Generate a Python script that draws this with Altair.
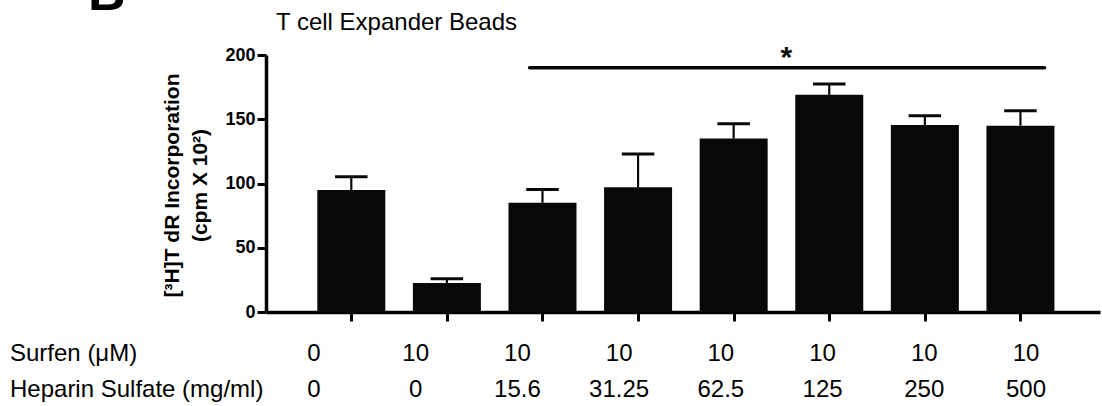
import altair as alt
import pandas as pd

# ---- data ----
groups = [1, 2, 3, 4, 5, 6, 7, 8]
means = [95, 22.5, 85, 97, 135, 169, 145.5, 145]
sems = [10.2, 3.3, 10.3, 26.0, 11.5, 8.5, 7.2, 11.6]
surfen = ["0", "10", "10", "10", "10", "10", "10", "10"]
heparin = ["0", "0", "15.6", "31.25", "62.5", "125", "250", "500"]
row_titles = ["Surfen (\u03bcM)", "Heparin Sulfate (mg/ml)"]
sig_start = [2.865]
sig_end = [8.253]
sig_level = [190]
star_pos = [5.55]
star_level = [191]
chart_title = "T cell Expander Beads"
panel_letter = "B"
y_title = ["[\u00b3H]T dR Incorporation", "(cpm X 10\u00b2)"]
y_ticks = [0, 50, 100, 150, 200]

FONT = "Liberation Sans"
INK = "#080806"

df = pd.DataFrame({"g": groups, "mean": means, "sem": sems})
df["upper"] = df["mean"] + df["sem"]

xs = alt.Scale(domain=[0.16, 8.78], nice=False, zero=False)
ys = alt.Scale(domain=[0, 200], nice=False)

base = alt.Chart(df)

bars = base.mark_bar(size=68, color=INK).encode(
    x=alt.X("g:Q", scale=xs, axis=alt.Axis(values=groups, labels=False, title=None,
                                         tickSize=9, tickWidth=3, tickColor="black",
                                         domainWidth=3.5, domainColor="black", grid=False)),
    y=alt.Y("mean:Q", scale=ys, axis=alt.Axis(values=y_ticks, title=y_title,
                                             titleFont=FONT, titleFontSize=21, titleFontWeight="bold",
                                             titleColor="black", titleAngle=270, titleAlign="center",
                                             titleBaseline="middle", titleLineHeight=28,
                                             titleX=-94, titleY=130,
                                             labelFont=FONT, labelFontSize=18, labelFontWeight="bold",
                                             labelColor="black", labelPadding=2,
                                             tickSize=9, tickWidth=3, tickColor="black",
                                             domainWidth=3.5, domainColor="black", grid=False)),
)

err = base.mark_rule(strokeWidth=2.2, color=INK).encode(
    x=alt.X("g:Q", scale=xs), y=alt.Y("mean:Q", scale=ys), y2="upper:Q"
)

caps = base.transform_calculate(xl="datum.g - 0.17", xr="datum.g + 0.17").mark_rule(
    strokeWidth=3, color=INK
).encode(x=alt.X("xl:Q", scale=xs), x2="xr:Q", y=alt.Y("upper:Q", scale=ys))

sig_df = pd.DataFrame({"x1": sig_start, "x2": sig_end, "y": sig_level})
sig = alt.Chart(sig_df).mark_rule(strokeWidth=3.5, strokeCap="round", color=INK).encode(
    x=alt.X("x1:Q", scale=xs), x2="x2:Q", y=alt.Y("y:Q", scale=ys)
)

star_df = pd.DataFrame({"x": star_pos, "y": star_level, "t": ["*"]})
star = alt.Chart(star_df).mark_text(font=FONT, fontSize=30, fontWeight="bold",
                                    baseline="alphabetic", color=INK).encode(
    x=alt.X("x:Q", scale=xs), y=alt.Y("y:Q", scale=ys), text="t:N"
)

main = alt.layer(bars, err, caps, sig, star)

lab_df = pd.DataFrame({"i": list(range(len(groups))), "s": surfen, "h": heparin})
lx = alt.Scale(domain=[0, 7], range=[48, 760], nice=False, zero=False)
row1 = alt.Chart(lab_df).mark_text(font=FONT, fontSize=24, baseline="middle", color="black").encode(
    x=alt.X("i:Q", scale=lx, axis=None), y=alt.value(299), text="s:N"
)
row2 = alt.Chart(lab_df).mark_text(font=FONT, fontSize=24, baseline="middle", color="black").encode(
    x=alt.X("i:Q", scale=lx, axis=None), y=alt.value(335), text="h:N"
)

rt_df = pd.DataFrame({"t": row_titles, "yy": [299, 335]})
rtitles = alt.Chart(rt_df).mark_text(font=FONT, fontSize=24, align="left", baseline="middle",
                                     color="black").encode(
    x=alt.value(-256), y=alt.Y("yy:Q", scale=None), text="t:N"
)

head_df = pd.DataFrame({"t": [chart_title]})
head = alt.Chart(head_df).mark_text(font=FONT, fontSize=24, align="left", baseline="alphabetic",
                                    color="black").encode(
    x=alt.value(10), y=alt.value(-25), text="t:N"
)

letter_df = pd.DataFrame({"t": [panel_letter]})
letter = alt.Chart(letter_df).mark_text(font=FONT, fontSize=52, fontWeight="bold", align="left",
                                        baseline="alphabetic", color="black").encode(
    x=alt.value(-178), y=alt.value(-45), text="t:N"
)

labels = alt.layer(row1, row2, rtitles, head, letter)

chart = alt.layer(main, labels).resolve_scale(x="independent").properties(
    width=834, height=257,
    autosize=alt.AutoSizeParams(type="none"),
    padding={"left": 266, "top": 55, "right": 2, "bottom": 94},
    background="white",
).configure_view(stroke=None)

chart.save("out.html", embed_options={"renderer": "svg", "actions": False})
